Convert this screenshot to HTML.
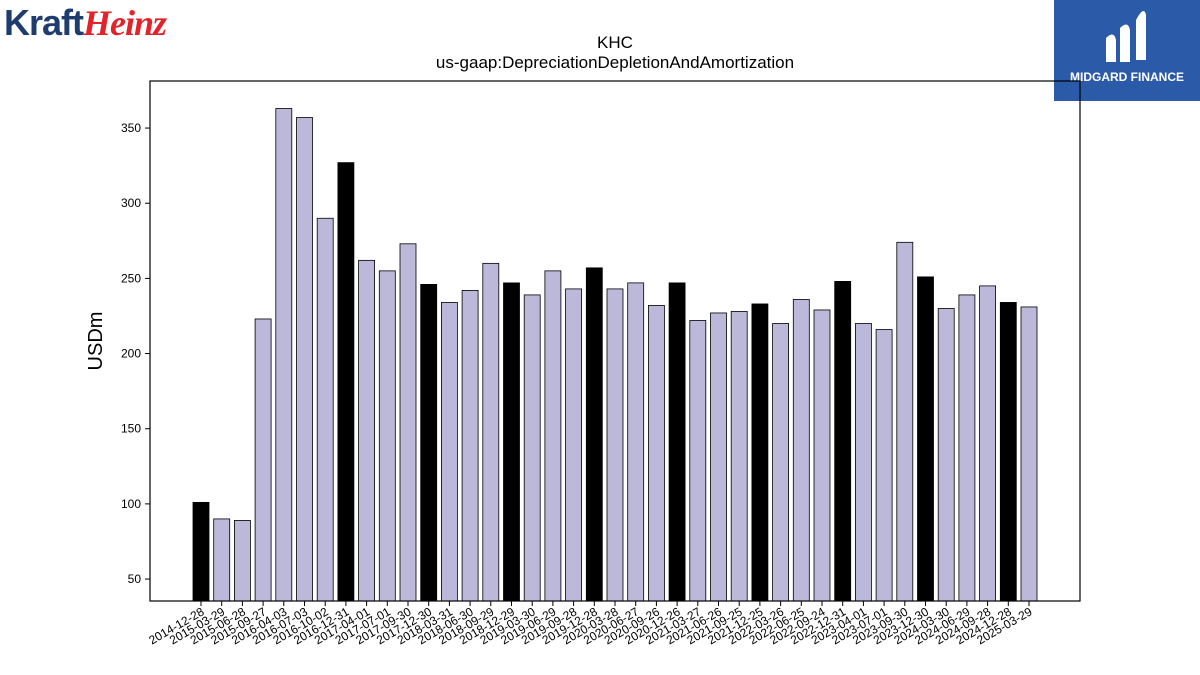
<!DOCTYPE html>
<html><head><meta charset="utf-8"><style>
body{margin:0;background:#fff;font-family:"Liberation Sans","DejaVu Sans",sans-serif;}
#wrap{position:relative;width:1200px;height:675px;overflow:hidden;}
</style></head><body>
<div id="wrap">
<div style="position:absolute;left:4px;top:2px;font-size:36px;font-weight:bold;letter-spacing:-1px;"><span style="color:#1f3c6e">Kraft</span><span style="color:#e4222a;font-style:italic;font-family:'Liberation Serif',serif">Heinz</span></div>
<div style="position:absolute;left:1054px;top:0;width:146px;height:101px;background:#2b5aa8;color:#fff;text-align:center;">
<svg width="146" height="70" style="display:block"><path d="M52 62 L52 38 Q60 30 62 40 L62 62 Z M66 62 L66 28 Q74 20 76 30 L76 62 Z M82 60 L82 20 Q90 5 92 15 L92 60 Z" fill="#fff"/></svg>
<div style="font-size:12px;font-weight:bold;margin-top:0">MIDGARD FINANCE</div></div>
<svg id="chart" width="1200" height="675" style="position:absolute;left:0;top:0">
<text x="615" y="48" text-anchor="middle" font-size="17">KHC</text>
<text x="615" y="68" text-anchor="middle" font-size="17">us-gaap:DepreciationDepletionAndAmortization</text>
<text transform="translate(102,341) rotate(-90)" text-anchor="middle" font-size="20">USDm</text>
<g id="bars"></g><g id="axes"></g>
</svg></div>
<script>
const categories=["2014-12-28","2015-03-29","2015-06-28","2015-09-27","2016-04-03","2016-07-03","2016-10-02","2016-12-31","2017-04-01","2017-07-01","2017-09-30","2017-12-30","2018-03-31","2018-06-30","2018-09-29","2018-12-29","2019-03-30","2019-06-29","2019-09-28","2019-12-28","2020-03-28","2020-06-27","2020-09-26","2020-12-26","2021-03-27","2021-06-26","2021-09-25","2021-12-25","2022-03-26","2022-06-25","2022-09-24","2022-12-31","2023-04-01","2023-07-01","2023-09-30","2023-12-30","2024-03-30","2024-06-29","2024-09-28","2024-12-28","2025-03-29"];
const values=[101,90,89,223,363,357,290,327,262,255,273,246,234,242,260,247,239,255,243,257,243,247,232,247,222,227,228,233,220,236,229,248,220,216,274,251,230,239,245,234,231];
const fiscalYearEnd=[1,0,0,0,0,0,0,1,0,0,0,1,0,0,0,1,0,0,0,1,0,0,0,1,0,0,0,1,0,0,0,1,0,0,0,1,0,0,0,1,0];
const yTicks=[50,100,150,200,250,300,350];
const L=150,R=1080,T=81,B=601,yMin=35.4,yMax=381.3;
const ns="http://www.w3.org/2000/svg";
const y=v=>B-(v-yMin)/(yMax-yMin)*(B-T);
const x=i=>201+i*(1029-201)/(categories.length-1);
const bars=document.getElementById('bars'),axes=document.getElementById('axes');
function mk(tag,attrs,parent){const e=document.createElementNS(ns,tag);for(const k in attrs)e.setAttribute(k,attrs[k]);parent.appendChild(e);return e;}
values.forEach((v,i)=>{
 const r=mk('rect',{x:x(i)-8,y:y(v),width:16,height:B-y(v),fill:fiscalYearEnd[i]?'#000':'#bcb8da',stroke:'#000','stroke-width':0.8},bars);
 
 
 mk('line',{x1:x(i),x2:x(i),y1:B,y2:B+5,stroke:'#000'},axes);
 const t=mk('text',{x:0,y:0,'font-size':12,'text-anchor':'end',transform:`translate(${x(i)+4},${B+13}) rotate(-30)`},axes);
 t.textContent=categories[i];
 
 
});
yTicks.forEach(v=>{
 mk('line',{x1:L-5,x2:L,y1:y(v),y2:y(v),stroke:'#000'},axes);
 const t=mk('text',{x:L-9,y:y(v)+4,'font-size':12,'text-anchor':'end'},axes);
 t.textContent=v;
 
 
});
const f=mk('rect',{x:L,y:T,width:R-L,height:B-T,fill:'none',stroke:'#000','stroke-width':1.2},axes);


</script>
</body></html>
